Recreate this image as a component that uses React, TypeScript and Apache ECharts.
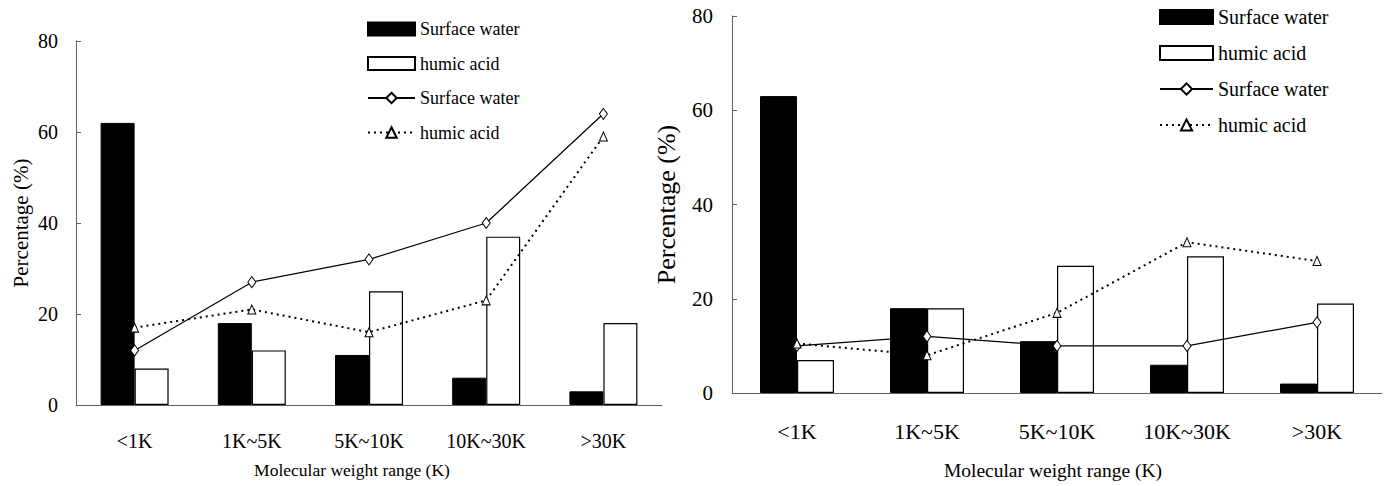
import React, { useEffect, useRef } from "react";
import * as echarts from "echarts";

const categories = ["<1K", "1K~5K", "5K~10K", "10K~30K", ">30K"];
const leftBarSurface = [62, 18, 11, 6, 3];
const leftBarHumic = [8, 12, 25, 37, 18];
const leftLineSurface = [12, 27, 32, 40, 64];
const leftLineHumic = [17, 21, 16, 23, 59];
const rightBarSurface = [63, 18, 11, 6, 2];
const rightBarHumic = [7, 18, 27, 29, 19];
const rightLineSurface = [10, 12, 10, 10, 15];
const rightLineHumic = [10.5, 8, 17, 32, 28];
const yMin = 0;
const yMax = 80;
const yInterval = 20;
const xTitle = "Molecular weight range (K)";
const yTitle = "Percentage (%)";
const legendNames = ["Surface water", "humic acid", "Surface water", "humic acid"];

const FONT = "Liberation Serif";
const AXIS_COLOR = "#606060";

export default function App() {
  const ref = useRef<HTMLDivElement>(null);
  useEffect(() => {
    if (!ref.current) return;
    const chart = echarts.init(ref.current, null, { renderer: "svg" });

    const keys = ["bs", "bh", "ls", "lh"];
    const nameFor = (side: string, i: number) => `${side}-${keys[i]}`;
    const display: Record<string, string> = {};
    ["L", "R"].forEach((s) => keys.forEach((_, i) => (display[nameFor(s, i)] = legendNames[i])));

    const makeX = (gridIndex: number, labelSize: number, nameSize: number, margin: number, nameGap: number, namePad: number[]) => ({
      type: "category",
      gridIndex,
      data: categories,
      axisLine: { lineStyle: { color: AXIS_COLOR, width: 1 } },
      axisTick: { inside: true, length: 6, lineStyle: { color: AXIS_COLOR } },
      axisLabel: { color: "#000", fontFamily: FONT, fontSize: labelSize, margin },
      name: xTitle,
      nameLocation: "middle",
      nameGap,
      nameTextStyle: { color: "#000", fontFamily: FONT, fontSize: nameSize, padding: namePad },
      splitLine: { show: false },
    });
    const makeY = (gridIndex: number, labelSize: number, nameSize: number, margin: number, nameGap: number) => ({
      type: "value",
      gridIndex,
      min: yMin,
      max: yMax,
      interval: yInterval,
      axisLine: { show: true, lineStyle: { color: AXIS_COLOR, width: 1 } },
      axisTick: { show: true, inside: true, length: 5, lineStyle: { color: AXIS_COLOR } },
      axisLabel: { color: "#000", fontFamily: FONT, fontSize: labelSize, margin },
      splitLine: { show: false },
      name: yTitle,
      nameLocation: "middle",
      nameGap,
      nameRotate: 90,
      nameTextStyle: { color: "#000", fontFamily: FONT, fontSize: nameSize },
    });

    const makeSeries = (side: string, idx: number, bs: number[], bh: number[], ls: number[], lh: number[], barWidth: number) => [
      {
        name: nameFor(side, 0),
        type: "bar",
        xAxisIndex: idx,
        yAxisIndex: idx,
        data: bs,
        barWidth,
        barGap: "0%",
        itemStyle: { color: "#000", borderColor: "#000", borderWidth: 1 },
      },
      {
        name: nameFor(side, 1),
        type: "bar",
        xAxisIndex: idx,
        yAxisIndex: idx,
        data: bh,
        barWidth,
        barGap: "0%",
        itemStyle: { color: "#fff", borderColor: "#000", borderWidth: 1.2 },
      },
      {
        name: nameFor(side, 2),
        type: "line",
        xAxisIndex: idx,
        yAxisIndex: idx,
        data: ls,
        symbol: "diamond",
        symbolSize: [8, 11],
        showAllSymbol: true,
        z: 5,
        lineStyle: { color: "#000", width: 1.2, type: "solid" },
        itemStyle: { color: "#fff", borderColor: "#000", borderWidth: 1 },
      },
      {
        name: nameFor(side, 3),
        type: "line",
        xAxisIndex: idx,
        yAxisIndex: idx,
        data: lh,
        symbol: "triangle",
        symbolSize: [8, 9],
        showAllSymbol: true,
        z: 5,
        lineStyle: { color: "#000", width: 2, type: [2, 4] },
        itemStyle: { color: "#fff", borderColor: "#000", borderWidth: 1 },
      },
    ];

    const makeLegend = (side: string, left: number, top: number, w: number, h: number, gap: number, fontSize: number) => ({
      orient: "vertical",
      left,
      top,
      padding: 0,
      itemWidth: w,
      itemHeight: h,
      itemGap: gap,
      selectedMode: false,
      data: [
        { name: nameFor(side, 0), icon: "rect" },
        { name: nameFor(side, 1), icon: "rect" },
        { name: nameFor(side, 2) },
        { name: nameFor(side, 3) },
      ],
      formatter: (n: string) => display[n],
      textStyle: { color: "#000", fontFamily: FONT, fontSize },
    });

    chart.setOption({
      animation: false,
      backgroundColor: "#fff",
      grid: [
        { left: 76, top: 41, width: 586, height: 364 },
        { left: 732, top: 16, width: 650, height: 377 },
      ],
      legend: [
        makeLegend("L", 367, 20, 47, 13, 16.5, 18),
        makeLegend("R", 1159, 7, 53, 14, 16, 20),
      ],
      xAxis: [
        makeX(0, 20, 17.5, 26, 56, [0, 34, 0, 0]),
        makeX(1, 22, 19.5, 27, 67, [0, 8, 0, 0]),
      ],
      yAxis: [makeY(0, 20, 21, 18, 45), makeY(1, 21, 26, 19, 53)],
      series: [
        ...makeSeries("L", 0, leftBarSurface, leftBarHumic, leftLineSurface, leftLineHumic, 34),
        ...makeSeries("R", 1, rightBarSurface, rightBarHumic, rightLineSurface, rightLineHumic, 37),
      ],
    });
    return () => chart.dispose();
  }, []);
  return (
    <div
      ref={ref}
      style={{ position: "absolute", left: 0, top: 0, width: 1391, height: 486 }}
    />
  );
}
